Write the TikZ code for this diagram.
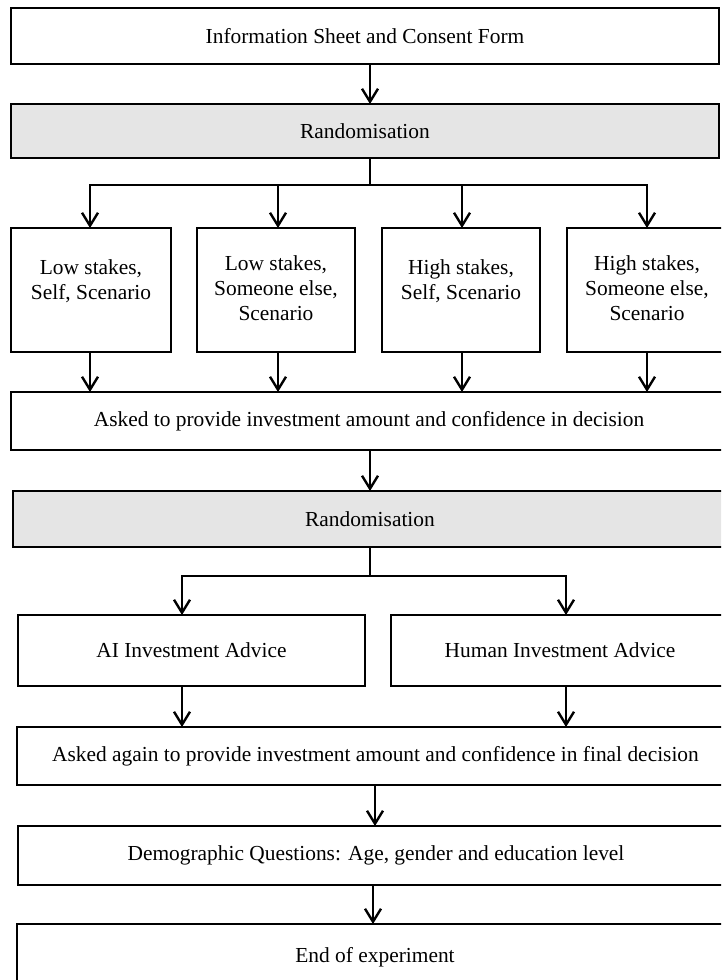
\documentclass[tikz,border=0pt]{standalone}
\usepackage{fontspec}
\setmainfont{Liberation Serif}
\usetikzlibrary{arrows.meta}
\definecolor{randgray}{RGB}{229,229,229}
\begin{document}
\begin{tikzpicture}[x=1pt,y=-1pt,
  font=\fontsize{21.4}{25}\selectfont,
  box/.style={draw=black, line width=2.7pt, fill=white, inner sep=0pt, outer sep=0pt, align=center},
  gbox/.style={box, fill=randgray},
  txt/.style={inner sep=0pt, align=center, anchor=north},
  arr/.style={line width=2.4pt, -{Straight Barb[length=13pt,width=16pt,line width=2.4pt]}},
  ln/.style={line width=2.4pt}]
\useasboundingbox (0,0) rectangle (721,980);
\fill[white] (0,0) rectangle (721,980);
\clip (0,0) rectangle (721,980);

% top boxes
\node[box, minimum width=708pt, minimum height=56pt] (info) at (365,36) {Information Sheet and Consent Form};
\node[gbox, minimum width=708pt, minimum height=54pt] (rand1) at (365,131) {Randomisation};

% four condition boxes
\node[box, minimum width=160pt, minimum height=124pt] (c1) at (91,290) {};
\node[box, minimum width=158pt, minimum height=124pt] (c2) at (276,290) {};
\node[box, minimum width=158pt, minimum height=124pt] (c3) at (461,290) {};
\node[box, minimum width=160pt, minimum height=124pt] (c4) at (647,290) {};
\node[txt] (c1t) at ([yshift=-31pt]c1.north) {Low stakes,\\Self, Scenario};
\node[txt] (c2t) at ([yshift=-27pt]c2.north) {Low stakes,\\Someone else,\\Scenario};
\node[txt] (c3t) at ([yshift=-31pt]c3.north) {High stakes,\\Self, Scenario};
\node[txt] (c4t) at ([yshift=-27pt]c4.north) {High stakes,\\Someone else,\\Scenario};

\node[box, minimum width=716pt, minimum height=58pt] (ask1) at (369,421) {Asked to provide investment amount and confidence in decision};
\node[gbox, minimum width=714pt, minimum height=56pt] (rand2) at (370,519) {Randomisation};

\node[box, minimum width=347pt, minimum height=71pt] (ai) at (191.5,650.5) {AI Investment Advice};
\node[box, minimum width=338pt, minimum height=71pt] (hum) at (560,650.5) {Human Investment Advice};

\node[box, minimum width=717pt, minimum height=58pt] (ask2) at (375.5,756) {Asked again to provide investment amount and confidence in final decision};
\node[box, minimum width=716pt, minimum height=59pt] (demo) at (376,855.5) {Demographic Questions: Age, gender and education level};
\node[box, minimum width=716pt, minimum height=66pt] (end) at (375,957) {End of experiment};

% connectors
\draw[arr] (info.south -| 370,0) -- (rand1.north -| 370,0);

\coordinate (br1) at (370,185);
\coordinate (br1a) at (90,185);
\coordinate (br1d) at (647,185);
\draw[ln] (rand1.south -| br1) -- (br1);
\draw[ln, line cap=rect] (br1a) -- (br1d);
\draw[arr] (br1a) -- (c1.north -| br1a);
\draw[arr] (278,185) -- (c2.north -| 278,0);
\draw[arr] (462,185) -- (c3.north -| 462,0);
\draw[arr] (br1d) -- (c4.north -| br1d);

\draw[arr] (c1.south -| 90,0) -- (ask1.north -| 90,0);
\draw[arr] (c2.south -| 278,0) -- (ask1.north -| 278,0);
\draw[arr] (c3.south -| 462,0) -- (ask1.north -| 462,0);
\draw[arr] (c4.south -| 647,0) -- (ask1.north -| 647,0);

\draw[arr] (ask1.south -| 370,0) -- (rand2.north -| 370,0);

\coordinate (br2) at (370,576);
\coordinate (br2a) at (182,576);
\coordinate (br2b) at (566,576);
\draw[ln] (rand2.south -| br2) -- (br2);
\draw[ln, line cap=rect] (br2a) -- (br2b);
\draw[arr] (br2a) -- (ai.north -| br2a);
\draw[arr] (br2b) -- (hum.north -| br2b);

\draw[arr] (ai.south -| br2a) -- (ask2.north -| br2a);
\draw[arr] (hum.south -| br2b) -- (ask2.north -| br2b);

\draw[arr] (ask2.south -| 375,0) -- (demo.north -| 375,0);
\draw[arr] (demo.south -| 373,0) -- (end.north -| 373,0);
\end{tikzpicture}
\end{document}
